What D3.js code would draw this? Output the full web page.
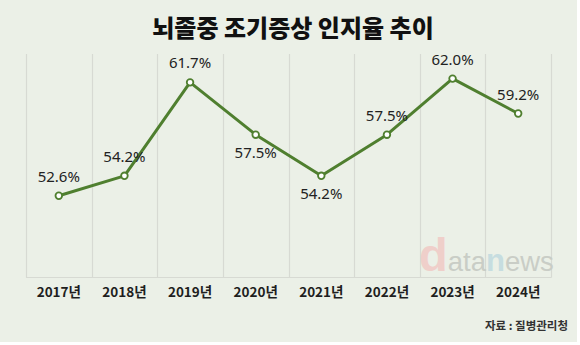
<!DOCTYPE html>
<html><head><meta charset="utf-8">
<script src="https://cdn.jsdelivr.net/npm/d3@7"></script>
<style>
html,body{margin:0;padding:0;background:#fff;}
svg{display:block;}
</style></head>
<body>
<script>
const years = ["2017년","2018년","2019년","2020년","2021년","2022년","2023년","2024년"];
const rates = [52.6, 54.2, 61.7, 57.5, 54.2, 57.5, 62.0, 59.2];
const labelPlacement = ["above","above","above","below","below","above","above","above"];
const titleText = "뇌졸중 조기증상 인지율 추이";
const sourceText = "자료 : 질병관리청";
const yDomain = [46, 64];

const W = 580, H = 345;
const svg = d3.select("body").append("svg").attr("width", W).attr("height", H);

svg.append("rect").attr("x",0).attr("y",0).attr("width",W).attr("height",H).attr("fill","#fff");
svg.append("rect").attr("x",0).attr("y",0).attr("width",577).attr("height",342).attr("fill","#ebf0e7");

const x = d3.scaleBand().domain(years).range([26, 551]).padding(0);
const y = d3.scaleLinear().domain(yDomain).range([278, 53.7]);
const plotTop = 54, plotBottom = 277.5;

// grid lines at band edges
const edges = years.map(d => x(d)).concat([x(years[years.length-1]) + x.bandwidth()]);
svg.append("g").selectAll("line").data(edges).join("line")
  .attr("x1", d => Math.round(d)+0.5).attr("x2", d => Math.round(d)+0.5)
  .attr("y1", plotTop).attr("y2", plotBottom)
  .attr("stroke", "#d7dad3").attr("stroke-width", 1.2);
svg.append("line").attr("x1", 26).attr("x2", 551.5).attr("y1", plotBottom).attr("y2", plotBottom)
  .attr("stroke", "#d7dad3").attr("stroke-width", 1.2);

// watermark
const wm = svg.append("text").attr("x", 419).attr("y", 271)
  .attr("font-family", "Liberation Sans, Arial, sans-serif");
wm.append("tspan").text("d").attr("font-size", 47).attr("font-weight", 700).attr("fill", "#efcfca");
wm.append("tspan").text("ata").attr("font-size", 27.5).attr("fill", "#c9cdc6");
wm.append("tspan").text("n").attr("font-size", 31).attr("font-weight", 700).attr("fill", "#c6dde0");
wm.append("tspan").text("ews").attr("font-size", 27.5).attr("fill", "#c9cdc6");

// x axis labels
const xAxis = d3.axisBottom(x).tickSize(0).tickPadding(0);
const gx = svg.append("g").attr("transform", `translate(0,${plotBottom})`).call(xAxis);
gx.select(".domain").remove();
gx.selectAll("text")
  .attr("y", 19.5).attr("dy", null)
  .attr("font-family", "Noto Sans CJK KR, Noto Sans, sans-serif")
  .attr("font-size", 13.5).attr("font-weight", 700).attr("fill", "#1e1e1e");

// line
const pts = years.map((d,i) => ({year:d, v:rates[i], pos:labelPlacement[i]}));
const line = d3.line().x(d => x(d.year) + x.bandwidth()/2).y(d => y(d.v));
svg.append("path").datum(pts).attr("d", line)
  .attr("fill", "none").attr("stroke", "#4f7f2f").attr("stroke-width", 3)
  .attr("stroke-linejoin", "round");
svg.append("g").selectAll("circle").data(pts).join("circle")
  .attr("cx", d => x(d.year) + x.bandwidth()/2).attr("cy", d => y(d.v))
  .attr("r", 3.3).attr("fill", "#fff").attr("stroke", "#4f7f2f").attr("stroke-width", 1.8);

// value labels
svg.append("g").selectAll("text").data(pts).join("text")
  .attr("x", d => x(d.year) + x.bandwidth()/2)
  .attr("y", d => d.pos === "above" ? y(d.v) - 14 : y(d.v) + 23.5)
  .attr("text-anchor", "middle")
  .attr("font-family", "Noto Sans, sans-serif")
  .attr("font-size", 15).attr("fill", "#222")
  .text(d => d.v.toFixed(1) + "%");

// title
svg.append("text").attr("x", 293).attr("y", 36.5).attr("text-anchor", "middle")
  .attr("font-family", "Noto Sans CJK KR, sans-serif")
  .attr("font-size", 24).attr("font-weight", 900).attr("fill", "#111")
  .text(titleText);

// source
svg.append("text").attr("x", 568).attr("y", 329.5).attr("text-anchor", "end")
  .attr("font-family", "Noto Sans CJK KR, sans-serif")
  .attr("font-size", 11.5).attr("font-weight", 700).attr("fill", "#333")
  .text(sourceText);
</script>
</body></html>
